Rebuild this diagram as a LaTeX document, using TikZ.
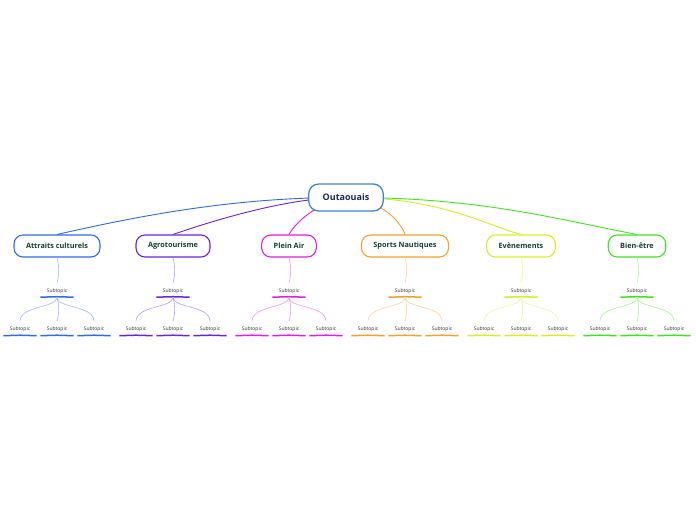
\documentclass[tikz,border=0pt]{standalone}
\usepackage{fontspec}
\setmainfont{Open Sans}
\pgfdeclarelayer{bg}
\pgfsetlayers{bg,main}
\definecolor{cC}{HTML}{3F86D8}
\definecolor{cA}{HTML}{2F6BEF}
\definecolor{cB}{HTML}{6E22E6}
\definecolor{cP}{HTML}{E11DE6}
\definecolor{cO}{HTML}{F5A229}
\definecolor{cE}{HTML}{D8F020}
\definecolor{cW}{HTML}{3FE61E}
\newcommand\myul[1]{\draw[ul] (#1.south west) -- ([yshift=0.5pt]#1.south) -- (#1.south east);}
\begin{document}
\begin{tikzpicture}[x=1pt,y=-1pt,
  central/.style={draw=cC, line width=1.3pt, rounded corners=10pt, fill=white, minimum height=27pt, inner xsep=14pt, font=\fontsize{9}{10}\selectfont\bfseries\addfontfeature{Color=1A2B5C}},
  topic/.style={draw=#1, line width=1.1pt, rounded corners=9pt, fill=white, minimum height=22pt, inner xsep=12pt, font=\fontsize{7.3}{8}\selectfont\bfseries\addfontfeature{Color=18402F}},
  subnode/.style={anchor=base, font=\fontsize{5}{6}\selectfont\addfontfeature{Color=333333}, minimum width=33pt, inner xsep=0pt, inner ysep=5pt, text height=4pt, text depth=0pt},
  ul/.style={line width=1.5pt, draw=bc},
  link/.style={line width=0.9pt, draw=#1},
  twig/.style={line width=0.6pt, draw=#1!45!white}]
\useasboundingbox (0,0) rectangle (696,520);
\begin{pgfonlayer}{bg}
\fill[white] (0,0) rectangle (696,520);
\end{pgfonlayer}
\node[central] (C) at (346,197.5) {Outaouais};
\foreach \nm/\txt/\xx/\bcol/\ax/\ay/\bx/\by in {
 A/Attraits culturels/57/cA/230/197/130/218,
 B/Agrotourisme/173/cB/290/197/215/220,
 P/Plein Air/289/cP/325/200/298/218,
 S/Sports Nautiques/405/cO/380/200/400/220,
 E/Evènements/521/cE/440/197/485/225,
 W/Bien-être/637/cW/480/197/560/220}
{
 \colorlet{bc}{\bcol}
 \node[topic=bc] (T\nm) at (\xx,246) {\txt};
 \node[subnode] (S\nm) at (\xx,292) {Subtopic};
 \myul{S\nm}
 \draw[twig=bc] (T\nm.south) .. controls +(2.2,8) and +(2.2,-8) .. (S\nm.north);
 \foreach \kk/\dd in {1/-37,2/0,3/37}{
   \node[subnode] (S\nm\kk) at (\xx+\dd,330.5) {Subtopic};
   \myul{S\nm\kk}
 }
 \draw[twig=bc] (S\nm.south) .. controls +(0,11) and +(0,-16) .. (S\nm1.north);
 \draw[twig=bc] (S\nm.south) .. controls +(0,11) and +(0,-16) .. (S\nm3.north);
 \draw[twig=bc] (S\nm.south) .. controls +(2.2,8) and +(2.2,-8) .. (S\nm2.north);
 \begin{pgfonlayer}{bg}
 \draw[link=bc] (C.center) .. controls (\ax,\ay) and (\bx,\by) .. (T\nm.north);
 \end{pgfonlayer}
}
\end{tikzpicture}
\end{document}
